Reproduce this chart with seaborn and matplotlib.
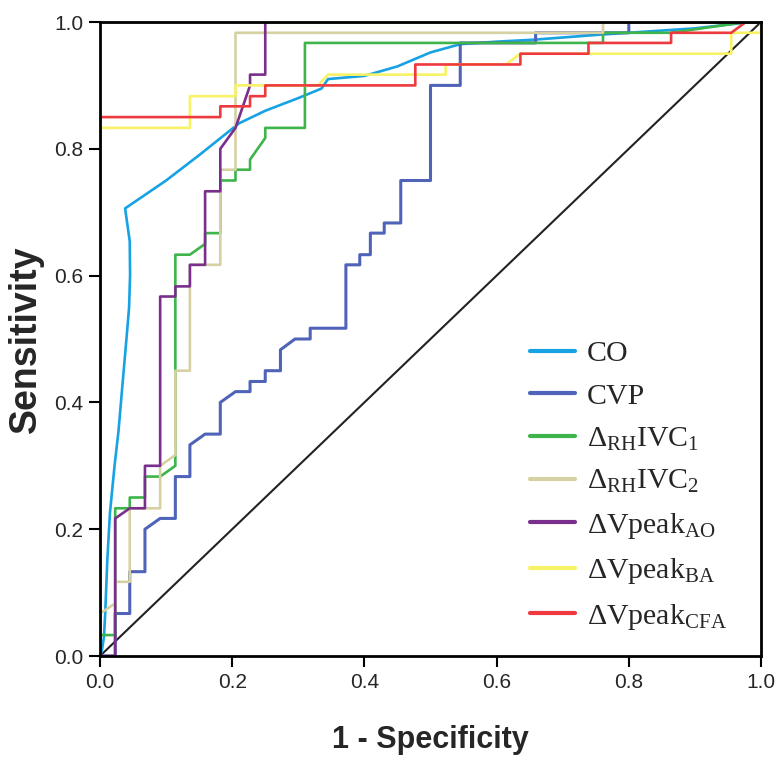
import matplotlib
matplotlib.use('Agg')
import matplotlib.pyplot as plt
import seaborn as sns
import pandas as pd

# ROC curves (1 - specificity, sensitivity)
co_fpr = [0, 0.003, 0.006, 0.008, 0.011, 0.015, 0.022, 0.028, 0.034, 0.040, 0.044, 0.0455, 0.045, 0.038,
          0.10, 0.15, 0.21, 0.25, 0.30, 0.335, 0.345, 0.40, 0.45, 0.50, 0.545, 0.60, 0.655, 0.756, 0.90, 0.985, 1.0]
co_tpr = [0, 0.01, 0.03, 0.07, 0.15, 0.225, 0.30, 0.355, 0.428, 0.50, 0.55, 0.60, 0.654, 0.706,
          0.75, 0.79, 0.84, 0.86, 0.88, 0.895, 0.91, 0.915, 0.93, 0.952, 0.965, 0.969, 0.972, 0.98, 0.99, 1.0, 1.0]

cvp_fpr = [0, 0.023, 0.023, 0.045, 0.045, 0.068, 0.068, 0.091, 0.114, 0.114, 0.136, 0.136, 0.159, 0.182, 0.182,
           0.205, 0.227, 0.227, 0.25, 0.25, 0.273, 0.273, 0.295, 0.318, 0.318, 0.372, 0.372, 0.393, 0.393,
           0.409, 0.409, 0.43, 0.43, 0.455, 0.455, 0.5, 0.5, 0.545, 0.545, 0.659, 0.659, 0.80, 0.80, 1.0]
cvp_tpr = [0, 0, 0.067, 0.067, 0.133, 0.133, 0.2, 0.217, 0.217, 0.283, 0.283, 0.333, 0.35, 0.35, 0.4,
           0.417, 0.417, 0.433, 0.433, 0.45, 0.45, 0.483, 0.5, 0.5, 0.517, 0.517, 0.617, 0.617, 0.633,
           0.633, 0.667, 0.667, 0.683, 0.683, 0.75, 0.75, 0.9, 0.9, 0.967, 0.967, 0.983, 0.983, 1.0, 1.0]

ivc1_fpr = [0, 0, 0.023, 0.023, 0.045, 0.045, 0.068, 0.068, 0.091, 0.114, 0.114, 0.136, 0.159, 0.159,
            0.182, 0.182, 0.205, 0.205, 0.227, 0.227, 0.25, 0.25, 0.31, 0.31, 0.761, 0.761, 0.864, 0.977, 1.0]
ivc1_tpr = [0, 0.033, 0.033, 0.233, 0.233, 0.25, 0.25, 0.283, 0.283, 0.3, 0.633, 0.633, 0.65, 0.667,
            0.667, 0.75, 0.75, 0.767, 0.767, 0.783, 0.817, 0.833, 0.833, 0.967, 0.967, 0.983, 0.983, 1.0, 1.0]

ivc2_fpr = [0, 0, 0.023, 0.023, 0.045, 0.045, 0.091, 0.091, 0.114, 0.114, 0.136, 0.136, 0.182, 0.182,
            0.205, 0.205, 0.761, 0.761, 1.0]
ivc2_tpr = [0, 0.067, 0.083, 0.117, 0.117, 0.233, 0.233, 0.3, 0.317, 0.45, 0.45, 0.617, 0.617, 0.767,
            0.767, 0.983, 0.983, 1.0, 1.0]

ao_fpr = [0, 0.023, 0.023, 0.045, 0.068, 0.068, 0.091, 0.091, 0.114, 0.114, 0.136, 0.136, 0.159, 0.159,
          0.182, 0.182, 0.205, 0.227, 0.227, 0.25, 0.25, 1.0]
ao_tpr = [0, 0, 0.217, 0.233, 0.233, 0.3, 0.3, 0.567, 0.567, 0.583, 0.583, 0.617, 0.617, 0.733,
          0.733, 0.8, 0.833, 0.9, 0.917, 0.917, 1.0, 1.0]

ba_fpr = [0, 0, 0.136, 0.136, 0.205, 0.205, 0.33, 0.345, 0.523, 0.523, 0.614, 0.636, 0.955, 0.955, 1.0, 1.0]
ba_tpr = [0, 0.833, 0.833, 0.883, 0.883, 0.9, 0.9, 0.917, 0.917, 0.933, 0.933, 0.95, 0.95, 0.983, 0.983, 1.0]

cfa_fpr = [0, 0, 0.182, 0.182, 0.227, 0.227, 0.25, 0.25, 0.477, 0.477, 0.636, 0.636, 0.739, 0.739,
           0.864, 0.864, 0.955, 0.977, 1.0]
cfa_tpr = [0, 0.85, 0.85, 0.867, 0.867, 0.883, 0.883, 0.9, 0.9, 0.933, 0.933, 0.95, 0.95, 0.967,
           0.967, 0.983, 0.983, 1.0, 1.0]

labels = ['CO', 'CVP', r'$\Delta_{\mathrm{RH}}$IVC$_{1}$', r'$\Delta_{\mathrm{RH}}$IVC$_{2}$',
          r'$\Delta$Vpeak$_{\mathrm{AO}}$', r'$\Delta$Vpeak$_{\mathrm{BA}}$', r'$\Delta$Vpeak$_{\mathrm{CFA}}$']
colors = ['#17a2e3', '#4f64b8', '#3db54a', '#d6d1a3', '#7a2f8c', '#f7f266', '#ee3a3f']
widths = [1.9, 2.2, 1.9, 1.9, 1.9, 1.9, 1.9]
curves = [(co_fpr, co_tpr), (cvp_fpr, cvp_tpr), (ivc1_fpr, ivc1_tpr), (ivc2_fpr, ivc2_tpr),
          (ao_fpr, ao_tpr), (ba_fpr, ba_tpr), (cfa_fpr, cfa_tpr)]

sns.set_style('white')
plt.rcParams['font.family'] = ['Liberation Sans', 'DejaVu Sans']
plt.rcParams['mathtext.fontset'] = 'custom'
plt.rcParams['mathtext.rm'] = 'Liberation Serif'
plt.rcParams['mathtext.it'] = 'Liberation Serif:italic'

fig = plt.figure(figsize=(7.78, 7.83), dpi=100)
ax = fig.add_axes([100 / 778, 1 - 656 / 783, 661 / 778, 634 / 783])

# reference line
sns.lineplot(x=[0, 1], y=[0, 1], color='#222222', linewidth=1.5, ax=ax, sort=False, estimator=None)

handles = []
for (fx, ty), lab, col, lw in zip(curves, labels, colors, widths):
    df = pd.DataFrame({'fpr': fx, 'tpr': ty})
    sns.lineplot(data=df, x='fpr', y='tpr', sort=False, estimator=None, color=col,
                 linewidth=lw, ax=ax, label=lab, legend=False)
    handles.append(ax.lines[-1])

ax.set_xlim(0, 1)
ax.set_ylim(0, 1)
ticks = [0.0, 0.2, 0.4, 0.6, 0.8, 1.0]
ax.set_xticks(ticks)
ax.set_yticks(ticks)
ax.set_xticklabels(['%.1f' % t for t in ticks], fontsize=15)
ax.set_yticklabels(['%.1f' % t for t in ticks], fontsize=15)
ax.tick_params(direction='out', length=8, width=1.5, color='black', pad=4,
               bottom=True, left=True)
for sp in ax.spines.values():
    sp.set_color('black')
    sp.set_linewidth(2)

ax.set_xlabel('1 - Specificity', fontsize=22, fontweight='bold', labelpad=24)
ax.set_ylabel('Sensitivity', fontsize=27, fontweight='bold', labelpad=7)

leg = ax.legend(handles=handles, labels=labels, loc='upper left', bbox_to_anchor=(0.61, 0.54),
                frameon=False, handlelength=1.5, handletextpad=0.4, labelspacing=0.52,
                prop={'family': 'Liberation Serif', 'size': 21.5})
for ln in leg.get_lines():
    ln.set_linewidth(3)

fig.savefig('out.png', dpi=100)
